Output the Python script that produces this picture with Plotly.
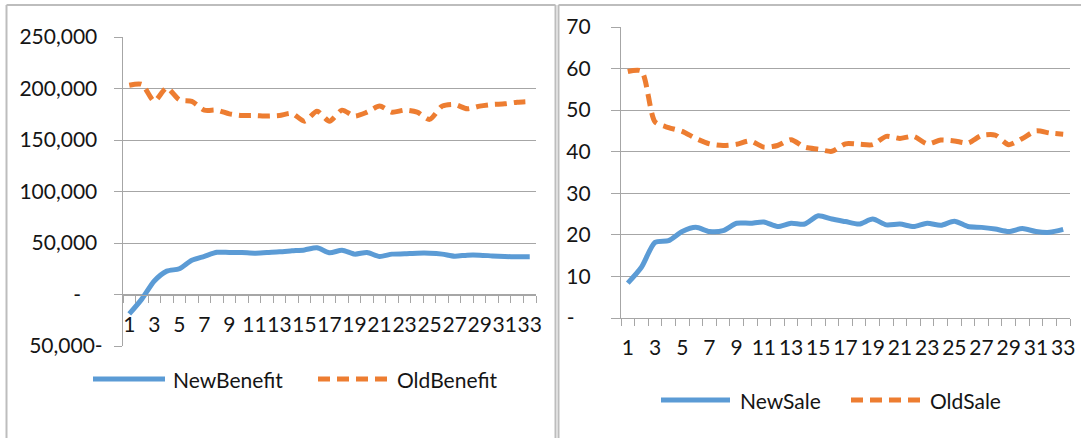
import plotly.graph_objects as go

# ---- data -------------------------------------------------------------
periods = list(range(1, 34))

new_benefit = [-18900, -4500, 13100, 22700, 25000, 33300, 37100, 41000, 40800, 40800,
               40100, 40800, 41400, 42400, 43300, 45300, 40500, 43000, 39200, 40800,
               36900, 39200, 39500, 40100, 40100, 39200, 37200, 38200, 38200, 37500,
               36900, 36600, 36600]
old_benefit = [203200, 204000, 187700, 200600, 189000, 187500, 179000, 179000, 175400, 173800,
               173800, 173200, 173800, 175800, 168300, 178000, 168300, 179000, 173200, 177000,
               182900, 177000, 179000, 177000, 170000, 182900, 184500, 180300, 182900, 184500,
               185100, 186700, 187400]

new_sale = [8.4, 12.2, 18.2, 18.6, 20.8, 21.8, 20.8, 21.0, 22.8, 22.8,
            23.1, 22.0, 22.8, 22.6, 24.6, 23.8, 23.2, 22.6, 23.8, 22.4,
            22.6, 22.0, 22.8, 22.3, 23.3, 22.0, 21.8, 21.4, 20.8, 21.5,
            20.8, 20.6, 21.3]
old_sale = [59.3, 59.4, 47.2, 45.8, 44.9, 43.2, 41.9, 41.5, 41.8, 42.6,
            41.1, 41.5, 42.9, 41.1, 40.6, 40.1, 41.9, 41.8, 41.7, 43.7,
            43.2, 43.7, 41.9, 42.8, 42.6, 42.1, 43.9, 44.0, 41.7, 43.2,
            45.0, 44.5, 44.2]

period_ticks = list(range(1, 34, 2))

benefit_ticks = [-50000, 0, 50000, 100000, 150000, 200000, 250000]
benefit_ticktext = ["50,000-", "-\u00a0\u00a0\u00a0\u00a0", "50,000\u00a0", "100,000\u00a0",
                    "150,000\u00a0", "200,000\u00a0", "250,000\u00a0"]
sale_ticks = [0, 10, 20, 30, 40, 50, 60, 70]
sale_ticktext = ["-\u00a0\u00a0\u00a0", "10", "20", "30", "40", "50", "60", "70"]

# ---- styling ----------------------------------------------------------
W, H = 1081, 438
BLUE = "#5B9BD5"
ORANGE = "#ED7D31"
GRID = "#a6a6a6"
FRAME = "#bdbdbd"
TEXT = "#151515"
FONT = "Lato"
DASH = "12px,7px"
LW = 5


def px(x):
    return x / W


def py(y):
    return 1 - y / H


fig = go.Figure()

line_kw = dict(mode="lines", line_shape="spline", showlegend=False, hoverinfo="skip")
fig.add_trace(go.Scatter(x=periods, y=new_benefit, name="NewBenefit", xaxis="x", yaxis="y",
                         line=dict(color=BLUE, width=LW, smoothing=0.7), **line_kw))
fig.add_trace(go.Scatter(x=periods, y=old_benefit, name="OldBenefit", xaxis="x", yaxis="y",
                         line=dict(color=ORANGE, width=LW, dash=DASH, smoothing=0.7), **line_kw))
fig.add_trace(go.Scatter(x=periods, y=new_sale, name="NewSale", xaxis="x2", yaxis="y2",
                         line=dict(color=BLUE, width=LW, smoothing=0.7), **line_kw))
fig.add_trace(go.Scatter(x=periods, y=old_sale, name="OldSale", xaxis="x2", yaxis="y2",
                         line=dict(color=ORANGE, width=LW, dash=DASH, smoothing=0.7), **line_kw))

tickfont = dict(family=FONT, size=21, color=TEXT)

cat_axis = dict(
    range=[0.5, 33.5], tickmode="array", tickvals=period_ticks, ticktext=[str(v) for v in period_ticks],
    ticks="", tickangle=0, showgrid=False, zeroline=False, showline=True, linecolor=GRID, linewidth=1.3,
    minor=dict(tick0=0.5, dtick=1, ticks="outside", ticklen=7, tickcolor=GRID, tickwidth=1.3, showgrid=False),
    tickfont=tickfont, ticklabelstandoff=11, automargin=False,
)

left_ydom = [py(346), py(37)]
right_ydom = [py(318), py(27)]
zero_pos = left_ydom[0] + (left_ydom[1] - left_ydom[0]) * (50000 / 300000)

fig.update_layout(
    width=W, height=H, margin=dict(l=0, r=0, t=0, b=0, autoexpand=False),
    paper_bgcolor="white", plot_bgcolor="white",
    font=dict(family=FONT, size=21, color=TEXT),
    xaxis=dict(domain=[px(123), px(536)], anchor="free", position=zero_pos, **cat_axis),
    yaxis=dict(domain=left_ydom, anchor="x", range=[-50000, 250000], tickmode="array",
               tickvals=benefit_ticks, ticktext=benefit_ticktext, ticks="outside", ticklen=8,
               tickcolor=GRID, tickwidth=1.3, showgrid=True, gridcolor=GRID, gridwidth=1.3,
               zeroline=False, showline=True, linecolor=GRID, linewidth=1.3,
               tickfont=tickfont, ticklabelstandoff=7, automargin=False),
    xaxis2=dict(domain=[px(621), px(1070)], anchor="y2", **cat_axis),
    yaxis2=dict(domain=right_ydom, anchor="x2", range=[0, 70], tickmode="array",
                tickvals=sale_ticks, ticktext=sale_ticktext, ticks="outside", ticklen=9,
                tickcolor=GRID, tickwidth=1.3, showgrid=True, gridcolor=GRID, gridwidth=1.3,
                zeroline=False, showline=True, linecolor=GRID, linewidth=1.3,
                tickfont=tickfont, ticklabelstandoff=16, automargin=False),
)

# ---- chart frames -----------------------------------------------------
frame = dict(type="line", xref="paper", yref="paper", line=dict(color=FRAME, width=2))
shapes = [
    dict(x0=px(6.5), x1=px(6.5), y0=py(5), y1=0, **frame),
    dict(x0=px(6.5), x1=px(555.5), y0=py(5), y1=py(5), **frame),
    dict(x0=px(555.5), x1=px(555.5), y0=py(5), y1=0, **frame),
    dict(x0=px(558.5), x1=px(558.5), y0=py(5), y1=0, **frame),
    dict(x0=px(558.5), x1=1, y0=py(5), y1=py(5), **frame),
]

# ---- legends ----------------------------------------------------------
legend_items = [
    ("NewBenefit", BLUE, "solid", 93, 165, 379, 171),
    ("OldBenefit", ORANGE, DASH, 318, 389, 379, 395),
    ("NewSale", BLUE, "solid", 661, 730, 400, 738),
    ("OldSale", ORANGE, DASH, 851, 921, 400, 928),
]
annotations = []
for label, color, dash, x0, x1, y, tx in legend_items:
    shapes.append(dict(type="line", xref="paper", yref="paper", x0=px(x0), x1=px(x1),
                       y0=py(y), y1=py(y), line=dict(color=color, width=LW, dash=dash)))
    annotations.append(dict(text=label, xref="paper", yref="paper", x=px(tx), y=py(y),
                            xanchor="left", yanchor="middle", showarrow=False,
                            font=dict(family=FONT, size=21, color=TEXT)))

fig.update_layout(shapes=shapes, annotations=annotations)

fig.write_html("out.html")
